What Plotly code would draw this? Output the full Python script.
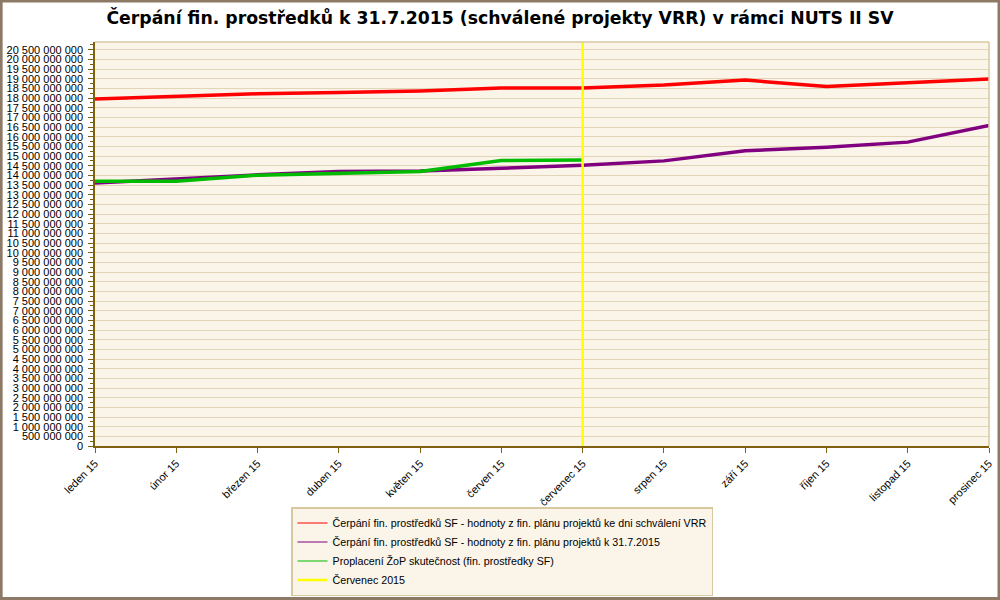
import plotly.graph_objects as go

months = ["leden 15", "únor 15", "březen 15", "duben 15", "květen 15", "červen 15",
          "červenec 15", "srpen 15", "září 15", "říjen 15", "listopad 15", "prosinec 15"]

red_vals = [17.95e9, 18.08e9, 18.22e9, 18.29e9, 18.36e9, 18.52e9,
            18.52e9, 18.67e9, 18.93e9, 18.60e9, 18.77e9, 18.98e9]
purple_vals = [13.60e9, 13.82e9, 14.03e9, 14.20e9, 14.23e9, 14.37e9,
               14.53e9, 14.75e9, 15.27e9, 15.46e9, 15.72e9, 16.58e9]
green_vals = [13.70e9, 13.70e9, 14.01e9, 14.11e9, 14.20e9, 14.77e9, 14.80e9]

marker_month = "červenec 15"
y_max = 20.9e9

names = ["Čerpání fin. prostředků SF - hodnoty z fin. plánu projektů ke dni schválení VRR",
         "Čerpání fin. prostředků SF - hodnoty z fin. plánu projektů k 31.7.2015",
         "Proplacení ŽoP skutečnost (fin. prostředky SF)",
         "Červenec 2015"]
colors = ["#ff0000", "#800080", "#00bb00", "#ffff00"]

fig = go.Figure()
fig.add_trace(go.Scatter(x=months, y=red_vals, mode="lines", line=dict(color=colors[0], width=3.5),
                         showlegend=False))
fig.add_trace(go.Scatter(x=months, y=purple_vals, mode="lines", line=dict(color=colors[1], width=3.5),
                         showlegend=False))
fig.add_trace(go.Scatter(x=months[:len(green_vals)], y=green_vals, mode="lines",
                         line=dict(color=colors[2], width=3.5), showlegend=False))
fig.add_trace(go.Scatter(x=[marker_month, marker_month], y=[0, y_max], mode="lines",
                         line=dict(color=colors[3], width=2.5), showlegend=False))
# legend entries
for n, c, w in zip(names, colors, [1, 1, 1, 2.5]):
    fig.add_trace(go.Scatter(x=[None], y=[None], mode="lines", name=n, line=dict(color=c, width=w)))

fig.update_layout(
    width=1000, height=600,
    margin=dict(l=95, r=11, t=42, b=154, autoexpand=False),
    paper_bgcolor="white",
    plot_bgcolor="#faf4e9",
    separators=", ",
    title=dict(text="<b>Čerpání fin. prostředků k 31.7.2015 (schválené projekty VRR) v rámci NUTS II SV</b>",
               x=0.5, xanchor="center", y=0.97, yanchor="middle",
               font=dict(family="DejaVu Sans", size=17.3, color="black")),
    font=dict(family="Liberation Sans", size=11, color="black"),
    legend=dict(xref="container", yref="container", x=0.291, xanchor="left", y=0.155, yanchor="top",
                bgcolor="#faf4e9", bordercolor="#d8c8a0", borderwidth=1.5,
                font=dict(family="Liberation Sans", size=10.7, color="black"),
                tracegroupgap=0, itemwidth=30),
    shapes=[dict(type="rect", xref="paper", yref="paper",
                 x0=-0.105, x1=1.0112, y0=-0.3775, y1=1.1015,
                 line=dict(color="#8c7a66", width=3), layer="below")],
)
fig.update_xaxes(type="category", range=[0, len(months) - 1], tickangle=-45, automargin=False,
                 showgrid=False, ticks="outside", ticklen=5, tickcolor="#7f5f10",
                 showline=True, linecolor="#7f5f10", linewidth=1.5, mirror=False,
                 tickfont=dict(size=11))
fig.update_yaxes(range=[0, y_max], dtick=500e6, tickformat=",d", automargin=False,
                 showgrid=True, gridcolor="#e2d5b8", gridwidth=1,
                 ticks="outside", ticklen=5, tickcolor="#7f5f10", ticklabelstandoff=3,
                 showline=True, linecolor="#7f5f10", linewidth=1.5,
                 zeroline=False,
                 minor=dict(dtick=250e6, ticks="outside", ticklen=3, tickcolor="#7f5f10", showgrid=False),
                 tickfont=dict(size=11))
# tan border on top/right of plot area
fig.add_shape(type="line", xref="paper", yref="paper", x0=0, x1=1, y0=1, y1=1,
              line=dict(color="#d8c8a0", width=1.5))
fig.add_shape(type="line", xref="paper", yref="paper", x0=1, x1=1, y0=0, y1=1,
              line=dict(color="#d8c8a0", width=1.5))

fig.write_html("out.html")
